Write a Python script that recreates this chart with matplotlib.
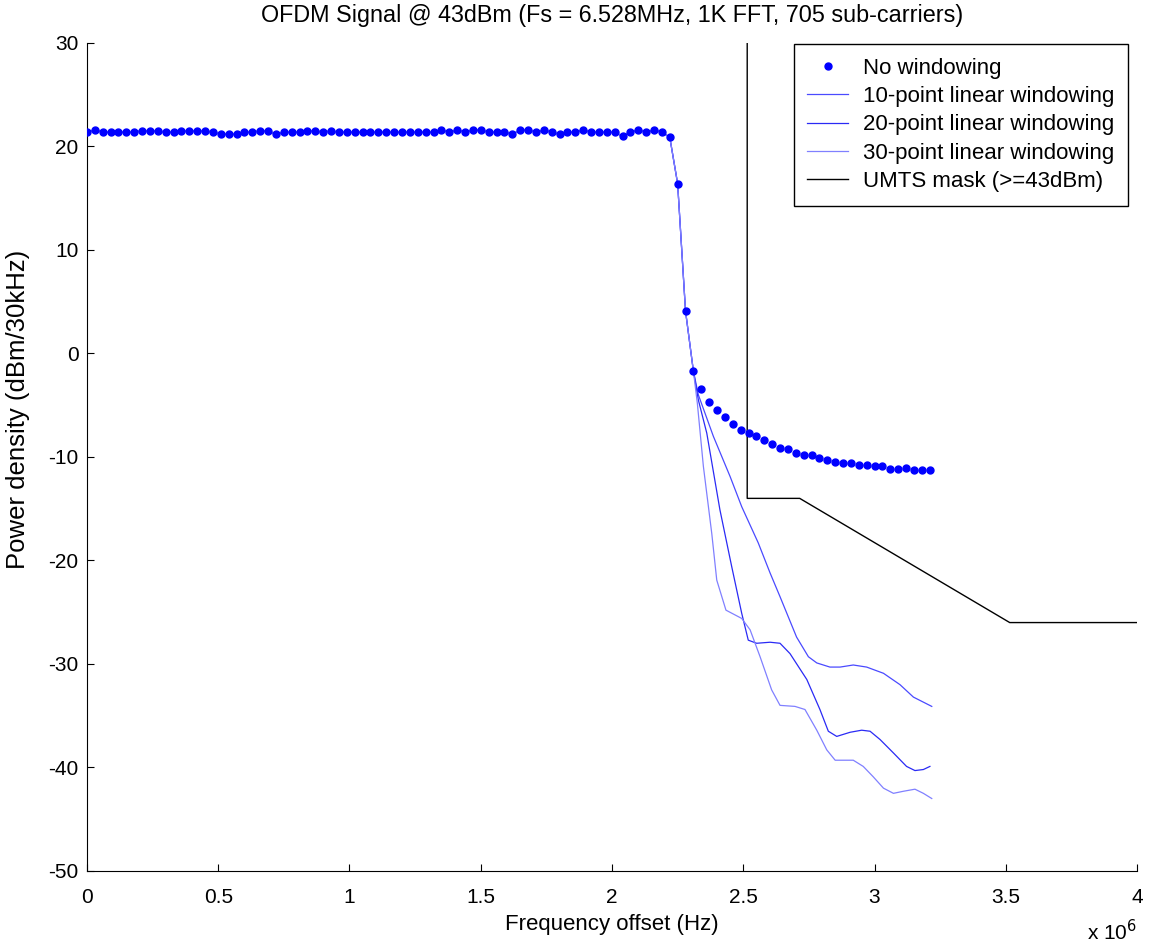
import numpy as np
import matplotlib
matplotlib.use("Agg")
import matplotlib.pyplot as plt
from matplotlib.ticker import FuncFormatter

plt.rcParams['font.family'] = ['Liberation Sans', 'DejaVu Sans']
plt.rcParams['axes.unicode_minus'] = False

# no windowing: one point every 30 kHz, 0 .. 3.21 MHz (dBm/30kHz)
df = 30e3
no_win = [
    21.37, 21.60, 21.37, 21.37, 21.37, 21.37, 21.37, 21.53, 21.53, 21.53,
    21.37, 21.37, 21.53, 21.53, 21.53, 21.53, 21.37, 21.18, 21.18, 21.18,
    21.37, 21.37, 21.53, 21.53, 21.18, 21.37, 21.37, 21.37, 21.53, 21.53,
    21.37, 21.53, 21.37, 21.37, 21.37, 21.37, 21.37, 21.37, 21.37, 21.37,
    21.37, 21.37, 21.37, 21.37, 21.37, 21.60, 21.37, 21.60, 21.37, 21.60,
    21.60, 21.37, 21.37, 21.37, 21.18, 21.60, 21.60, 21.37, 21.60, 21.37,
    21.18, 21.37, 21.37, 21.60, 21.37, 21.37, 21.37, 21.37, 21.00, 21.37,
    21.60, 21.37, 21.60, 21.37, 20.90, 16.40, 4.10, -1.70, -3.40, -4.70,
    -5.50, -6.10, -6.80, -7.40, -7.70, -8.00, -8.40, -8.70, -9.10, -9.26,
    -9.60, -9.80, -9.80, -10.10, -10.30, -10.45, -10.60, -10.60, -10.80, -10.80,
    -10.90, -10.90, -11.20, -11.20, -11.10, -11.30, -11.30, -11.30,
]
f_no_win = np.arange(len(no_win)) * df

# windowed curves share the no-windowing trace up to 2.31 MHz
n_shared = 78

# 10-point linear windowing tail (MHz, dBm/30kHz)
f_w10 = [2.329, 2.386, 2.450, 2.494, 2.557, 2.602, 2.640, 2.703, 2.748, 2.780,
         2.830, 2.869, 2.919, 2.970, 3.034, 3.097, 3.148, 3.218]
p_w10 = [-4.0, -8.0, -11.9, -14.8, -18.3, -21.2, -23.5, -27.4, -29.3, -29.9,
         -30.3, -30.3, -30.1, -30.3, -30.9, -32.0, -33.2, -34.1]

# 20-point linear windowing tail
f_w20 = [2.329, 2.361, 2.411, 2.456, 2.494, 2.519, 2.551, 2.602, 2.640, 2.678,
         2.742, 2.792, 2.824, 2.856, 2.907, 2.951, 2.983, 3.021, 3.072, 3.122,
         3.154, 3.186, 3.211]
p_w20 = [-4.5, -7.7, -15.1, -20.6, -25.1, -27.7, -28.0, -27.9, -28.0, -29.0,
         -31.5, -34.4, -36.5, -37.0, -36.6, -36.4, -36.5, -37.3, -38.6, -39.9,
         -40.3, -40.2, -39.9]

# 30-point linear windowing tail
f_w30 = [2.325, 2.348, 2.380, 2.399, 2.434, 2.494, 2.526, 2.564, 2.608, 2.640,
         2.697, 2.735, 2.780, 2.818, 2.850, 2.881, 2.919, 2.957, 2.995, 3.034,
         3.072, 3.110, 3.154, 3.186, 3.218]
p_w30 = [-4.8, -10.9, -17.4, -21.9, -24.8, -25.6, -26.7, -29.3, -32.5, -34.0,
         -34.1, -34.4, -36.4, -38.3, -39.3, -39.3, -39.3, -39.9, -40.9, -42.0,
         -42.5, -42.3, -42.1, -42.5, -43.0]

# UMTS spectrum mask (>=43 dBm)
f_mask = [2.515, 2.515, 2.715, 3.515, 4.0]
p_mask = [30.0, -14.0, -14.0, -26.0, -26.0]


def with_head(f_tail, p_tail):
    f = np.concatenate([f_no_win[:n_shared], np.array(f_tail) * 1e6])
    p = np.concatenate([no_win[:n_shared], p_tail])
    return f, p


fig = plt.figure(figsize=(11.49, 9.47), dpi=100)
ax = fig.add_axes([0.0757, 0.0803, 0.9139, 0.8743])

ax.plot(f_no_win, no_win, '.', color='#0000ff', markersize=10, label='No windowing', zorder=5)
f, p = with_head(f_w10, p_w10)
ax.plot(f, p, '-', color='#4a4aff', lw=0.9, label='10-point linear windowing')
f, p = with_head(f_w20, p_w20)
ax.plot(f, p, '-', color='#2a2af5', lw=0.9, label='20-point linear windowing')
f, p = with_head(f_w30, p_w30)
ax.plot(f, p, '-', color='#8080ff', lw=0.9, label='30-point linear windowing')
ax.plot(np.array(f_mask) * 1e6, p_mask, '-', color='black', lw=1.0, label='UMTS mask (>=43dBm)')

ax.set_xlim(0, 4e6)
ax.set_ylim(-50, 30)
ax.set_xticks(np.arange(0, 4.01e6, 0.5e6))
ax.set_yticks(np.arange(-50, 31, 10))
ax.xaxis.set_major_formatter(FuncFormatter(lambda v, pos: '%g' % (v / 1e6)))
ax.tick_params(direction='in', length=5, width=0.8, labelsize=15)
ax.tick_params(axis='x', pad=12)
ax.tick_params(axis='y', pad=6)
ax.spines['top'].set_visible(False)
ax.spines['right'].set_visible(False)

ax.set_title('OFDM Signal @ 43dBm (Fs = 6.528MHz, 1K FFT, 705 sub-carriers)', fontsize=16.8, pad=15)
ax.set_xlabel('Frequency offset (Hz)', fontsize=16, labelpad=5)
ax.set_ylabel('Power density (dBm/30kHz)', fontsize=18.5)
ax.yaxis.set_label_coords(-0.054, 0.558)
ax.text(1.0, -0.0833, r'x 10$^6$', transform=ax.transAxes, ha='right', va='baseline', fontsize=15)

leg = ax.legend(loc='upper right', bbox_to_anchor=(0.9914, 0.9988), borderaxespad=0,
                fontsize=16, fancybox=False, framealpha=1, edgecolor='black',
                handlelength=1.85, labelspacing=0.33, borderpad=0.62, handletextpad=0.65)
leg.get_frame().set_linewidth(1.0)

fig.savefig('out.png', dpi=100)
